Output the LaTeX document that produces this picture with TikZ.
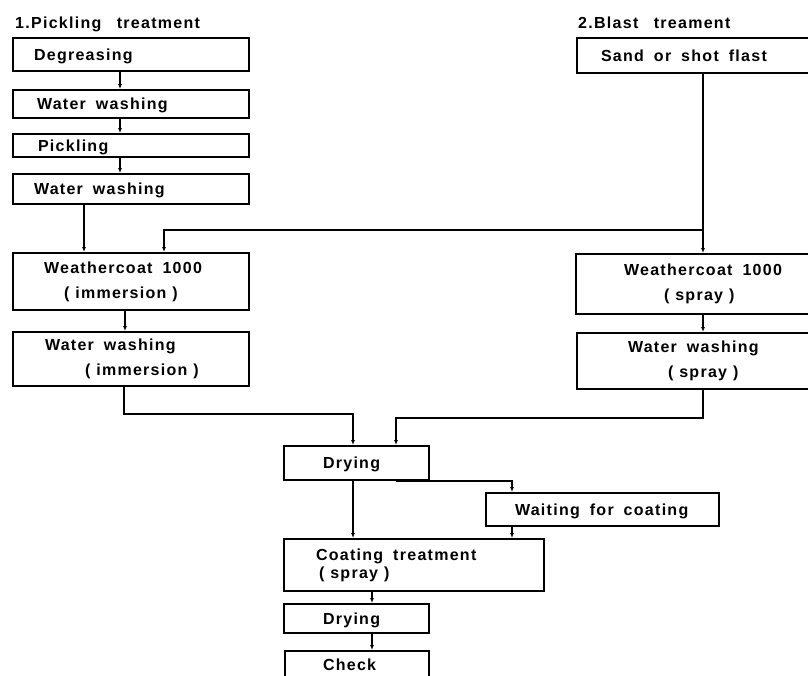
\documentclass[tikz,border=0pt]{standalone}
\usepackage{fontspec}
\setmainfont{Liberation Sans}[LetterSpace=8,WordSpace=2.7]
\usetikzlibrary{arrows.meta}
\newcommand\boxspaces{\spaceskip 10pt\xspaceskip 10pt\hyphenpenalty 10000\relax}
\newcommand\inparen[1]{(\hspace{6pt}#1\hspace{6pt})}

\begin{document}
\begin{tikzpicture}[x=1pt,y=-1pt,
    box/.style={draw,line width=2pt,anchor=north west,align=left,inner ysep=0pt,font=\fontsize{16}{25}\bfseries,
      execute at begin node={\boxspaces}},
    one/.style={box,text height=11.5pt,text depth=0pt},
    title/.style={anchor=base west,inner sep=0pt,font=\fontsize{16}{25}\bfseries},
    con/.style={line width=1.3pt},
    arr/.style={con,-{Latex[length=5pt,width=4pt]}}]
        \useasboundingbox (0,0) rectangle (808,675);
        \clip (0,0) rectangle (808,675);
        \fill[white] (0,0) rectangle (808,675);
        \node[title] (t1) at (15,28) {1.Pickling treatment};
        \node[title] (t2) at (578,28) {2.Blast treament};
        % pickling line
        \node[one,inner xsep=21pt,text width=194pt,minimum height=33pt] (deg) at (12,37) {Degreasing};
        \node[one,inner xsep=24pt,text width=188pt,minimum height=28pt] (wash1) at (12,89) {Water washing};
        \node[one,inner xsep=25pt,text width=186pt,minimum height=23pt] (pick) at (12,133) {Pickling};
        \node[one,inner xsep=21pt,text width=194pt,minimum height=30pt] (wash2) at (12,173) {Water washing};
        \node[box,inner xsep=31pt,text width=174pt,minimum height=57pt] (wci) at (12,252) {Weathercoat 1000\\\hspace*{20pt}\inparen{immersion}};
        \node[box,inner xsep=32pt,text width=172pt,minimum height=54pt] (wwi) at (12,331) {Water washing\\\hspace*{40pt}\inparen{immersion}};
        % blast line
        \node[one,inner xsep=24pt,text width=242pt,minimum height=35pt] (sand) at (576,37) {Sand or shot flast};
        \node[box,inner xsep=48pt,text width=194pt,minimum height=60pt] (wcs) at (575,253) {Weathercoat 1000\\\hspace*{40pt}\inparen{spray}};
        \node[box,inner xsep=51pt,text width=188pt,minimum height=56pt] (wws) at (576,332) {Water washing\\\hspace*{40pt}\inparen{spray}};
        % common part
        \node[one,inner xsep=39pt,text width=67pt,minimum height=34pt] (dry1) at (283,445) {Drying};
        \node[one,inner xsep=29pt,text width=175pt,minimum height=33pt] (wait) at (485,492) {Waiting for coating};
        \node[box,inner xsep=32pt,text width=196pt,minimum height=52pt,font=\fontsize{16}{18}\bfseries] (coat) at (283,538) {Coating treatment\\\hspace*{3pt}\inparen{spray}};
        \node[one,inner xsep=39pt,text width=67pt,minimum height=29pt] (dry2) at (283,603) {Drying};
        \node[one,inner xsep=38pt,text width=68pt,minimum height=27pt] (check) at (284,650) {Check};
        \coordinate (ja) at (120,0);
        \coordinate (jr) at (703,230);
        \coordinate (jl) at (353,414);
        \coordinate (jm) at (396,418);
        \coordinate (jw) at (512,481);
        \coordinate (jc) at (372,0);
        \draw[arr] (deg.south -| ja) -- (wash1.north -| ja);
        \draw[arr] (wash1.south -| ja) -- (pick.north -| ja);
        \draw[arr] (pick.south -| ja) -- (wash2.north -| ja);
        \draw[arr] ([xshift=-47pt]wash2.south) -- ([xshift=-47pt]wci.north);
        \draw[arr] ([xshift=-6pt]wci.south) -- ([xshift=-6pt]wwi.north);
        \draw[arr] (sand.south -| jr) -- (wcs.north -| jr);
        \draw[arr] (jr) -| ([xshift=33pt]wci.north);
        \draw[arr] (wcs.south -| jr) -- (wws.north -| jr);
        \draw[arr] ([xshift=-7pt]wwi.south) |- (jl) -- (jl |- dry1.north);
        \draw[arr] (wws.south -| jr) |- (jm) -- (jm |- dry1.north);
        \draw[arr] (dry1.south -| jl) -- (coat.north -| jl);
        \draw[arr] (jm |- jw) -- (jw) -- (jw |- wait.north);
        \draw[arr] (wait.south -| jw) -- (coat.north -| jw);
        \draw[arr] (coat.south -| jc) -- (dry2.north -| jc);
        \draw[arr] (dry2.south -| jc) -- (check.north -| jc);
    \end{tikzpicture}
\end{document}
